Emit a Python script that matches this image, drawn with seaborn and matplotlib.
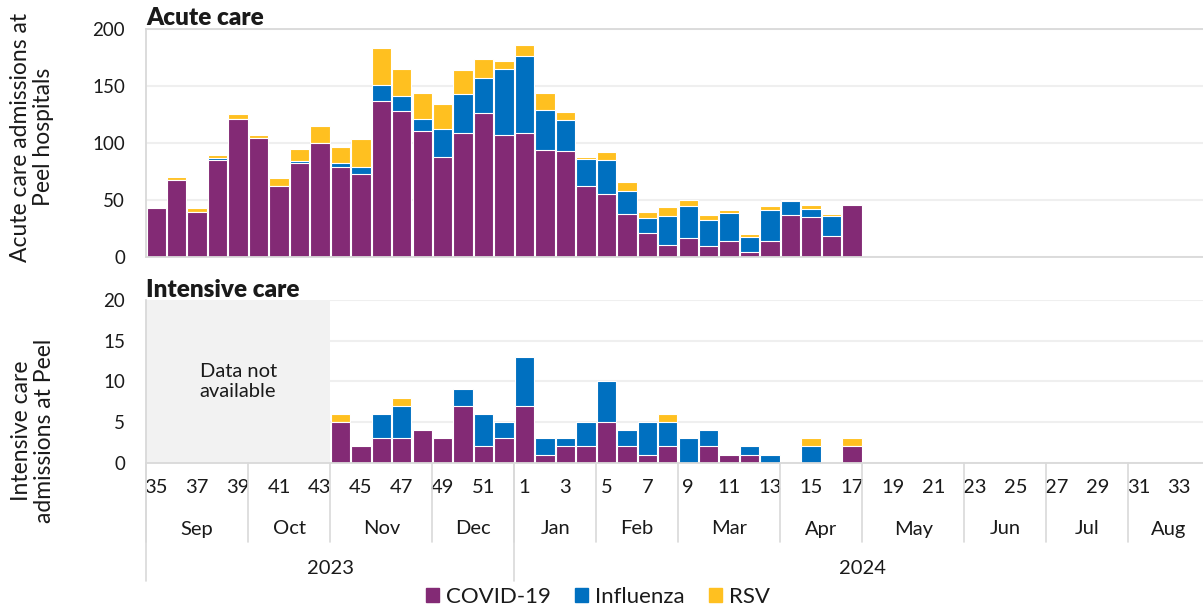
import numpy as np
import pandas as pd
import matplotlib.pyplot as plt
import matplotlib.transforms as mtransforms
from matplotlib.patches import Patch
import seaborn as sns

# Colours
COVID_C = '#832A75'
FLU_C = '#0070C0'
RSV_C = '#FFC020'
GRID_C = '#EFEFEF'
AXIS_C = '#D9D9D9'
INK = '#1A1A1A'

sns.set_theme(style='white')
plt.rcParams['font.family'] = ['Lato', 'DejaVu Sans']
plt.rcParams['text.color'] = INK

nan = np.nan

# Surveillance weeks (Sep 2023 - Aug 2024)
weeks_2023 = [35, 36, 37, 38, 39, 40, 41, 42, 43, 44, 45, 46, 47, 48, 49, 50, 51, 52]
weeks_2024 = [1, 2, 3, 4, 5, 6, 7, 8, 9, 10, 11, 12, 13, 14, 15, 16, 17, 18, 19, 20,
              21, 22, 23, 24, 25, 26, 27, 28, 29, 30, 31, 32, 33, 34]
months = ['Sep', 'Oct', 'Nov', 'Dec', 'Jan', 'Feb', 'Mar', 'Apr', 'May', 'Jun', 'Jul', 'Aug']
weeks_per_month = [5, 4, 5, 4, 4, 4, 5, 4, 5, 4, 4, 4]
years = ['2023', '2024']

# Acute care admissions (2024 reported through week 17)
acute_covid_2023 = [43, 68, 40, 85, 121, 104, 62, 82, 100, 79, 73, 137, 128, 110, 88, 109, 126, 107]
acute_flu_2023 = [0, 0, 0, 2, 0, 0, 0, 2, 0, 3, 6, 14, 13, 11, 24, 34, 31, 58]
acute_rsv_2023 = [0, 2, 3, 2, 4, 3, 7, 11, 15, 14, 24, 32, 24, 23, 22, 21, 16, 7]
acute_covid_2024 = [109, 94, 93, 62, 55, 38, 21, 11, 17, 10, 14, 5, 14, 37, 35, 19, 46]
acute_flu_2024 = [67, 35, 27, 24, 30, 20, 13, 25, 28, 23, 25, 13, 27, 12, 7, 17, 0]
acute_rsv_2024 = [10, 15, 7, 2, 7, 8, 6, 8, 5, 4, 2, 2, 4, 1, 4, 2, 0]

# Intensive care admissions (not available before week 44)
icu_covid_2023 = [nan, nan, nan, nan, nan, nan, nan, nan, nan, 5, 2, 3, 3, 4, 3, 7, 2, 3]
icu_flu_2023 = [nan, nan, nan, nan, nan, nan, nan, nan, nan, 0, 0, 3, 4, 0, 0, 2, 4, 2]
icu_rsv_2023 = [nan, nan, nan, nan, nan, nan, nan, nan, nan, 1, 0, 0, 1, 0, 0, 0, 0, 0]
icu_covid_2024 = [7, 1, 2, 2, 5, 2, 1, 2, 0, 2, 1, 1, 0, 0, 0, 0, 2]
icu_flu_2024 = [6, 2, 1, 3, 5, 2, 4, 3, 3, 2, 0, 1, 1, 0, 2, 0, 0]
icu_rsv_2024 = [0, 0, 0, 0, 0, 0, 0, 1, 0, 0, 0, 0, 0, 0, 1, 0, 1]

weeks = weeks_2023 + weeks_2024
slots = [f'2023-{w}' for w in weeks_2023] + [f'2024-{w}' for w in weeks_2024]
pad = [nan] * (len(weeks_2024) - len(acute_covid_2024))


def frame(c23, f23, r23, c24, f24, r24):
    return pd.DataFrame({
        'slot': slots,
        'covid': c23 + c24 + pad,
        'flu': f23 + f24 + pad,
        'rsv': r23 + r24 + pad,
    })


acute = frame(acute_covid_2023, acute_flu_2023, acute_rsv_2023,
              acute_covid_2024, acute_flu_2024, acute_rsv_2024)
icu = frame(icu_covid_2023, icu_flu_2023, icu_rsv_2023,
            icu_covid_2024, icu_flu_2024, icu_rsv_2024)


def stacked_bars(ax, d):
    # overlay cumulative totals so the segments stack
    layers = [(d['covid'] + d['flu'] + d['rsv'], RSV_C),
              (d['covid'] + d['flu'], FLU_C),
              (d['covid'], COVID_C)]
    for height, color in layers:
        sns.barplot(data=d.assign(h=height), x='slot', y='h', order=slots, color=color,
                    saturation=1, width=0.95, edgecolor='white', linewidth=0.8,
                    errorbar=None, ax=ax, zorder=2)


W, H = 1203, 612
fig = plt.figure(figsize=(W / 100, H / 100), dpi=100)
left = 146 / W
width = 1064 / W
ax1 = fig.add_axes([left, 1 - 257.3 / H, width, (257.3 - 28.5) / H])
ax2_h = (462.7 - 300) / H
ax2 = fig.add_axes([left, 1 - 462.7 / H, width, ax2_h])

stacked_bars(ax1, acute)
stacked_bars(ax2, icu)

for ax, top, step in [(ax1, 200, 50), (ax2, 20, 5)]:
    ax.set_xlim(-0.5, len(slots) - 0.5)
    ax.set_ylim(0, top)
    ax.set_yticks(range(0, top + 1, step))
    ax.set_xlabel('')
    ax.set_ylabel('')
    ax.set_axisbelow(True)
    ax.yaxis.grid(True, color=GRID_C, lw=1.5)
    ax.xaxis.grid(False)
    ax.tick_params(axis='y', length=0, pad=15, labelsize=13.5, labelcolor=INK)
    for s in ['left', 'bottom']:
        ax.spines[s].set_color(AXIS_C)
        ax.spines[s].set_linewidth(1.3)
    ax.spines['right'].set_visible(False)

ax1.spines['top'].set_color(AXIS_C)
ax1.spines['top'].set_linewidth(1.3)
ax2.spines['top'].set_visible(False)
ax1.set_xticks([])

ax1.set_title('Acute care', loc='left', fontsize=17.5, fontweight='heavy', pad=2)
ax2.set_title('Intensive care', loc='left', fontsize=17.5, fontweight='heavy', pad=2)

# grey block where ICU data is missing
n_missing = int(icu['covid'].isna().values[:len(weeks_2023)].sum())
ax2.axvspan(-0.5, n_missing - 0.5, color='#F2F2F2', lw=0, zorder=1)
ax2.text((n_missing - 1) / 2, 10, 'Data not\navailable', ha='center', va='center',
         fontsize=14.5, linespacing=1.2, color=INK, zorder=3)

# week ticks
tick_idx = list(range(0, len(weeks), 2))
ax2.set_xticks(tick_idx)
ax2.set_xticklabels([str(weeks[i]) for i in tick_idx])
ax2.tick_params(axis='x', length=0, pad=12, labelsize=14.5, labelcolor=INK)

# month and year rows
ax_px = ax2_h * H
trans = mtransforms.blended_transform_factory(ax2.transData, ax2.transAxes)


def below(px):
    return -(px - 462.7) / ax_px


starts = np.concatenate([[0], np.cumsum(weeks_per_month)[:-1]])
for name, s, n in zip(months, starts, weeks_per_month):
    ax2.plot([s - 0.5, s - 0.5], [0, below(542)], transform=trans, clip_on=False,
             color=AXIS_C, lw=1.2)
    ax2.text(s + n / 2 - 0.5, below(529), name, transform=trans, ha='center', va='center',
             fontsize=14.5, color=INK)

year_len = [len(weeks_2023), len(weeks_2024)]
ystart = [0, len(weeks_2023)]
for name, s, n in zip(years, ystart, year_len):
    ax2.plot([s - 0.5, s - 0.5], [0, below(581)], transform=trans, clip_on=False,
             color=AXIS_C, lw=1.2)
    ax2.text(s + n / 2 - 0.5, below(568), name, transform=trans, ha='center', va='center',
             fontsize=14.5, color=INK)

# axis titles
fig.text(32 / W, 1 - 137 / H, 'Acute care admissions at\nPeel hospitals', rotation=90,
         ha='center', va='center', fontsize=16.5, linespacing=1.1, color=INK)
fig.text(33 / W, 1 - 431 / H, 'Intensive care\nadmissions at Peel', rotation=90,
         ha='center', va='center', fontsize=16.5, linespacing=1.1, color=INK)

# legend
handles = [Patch(color=COVID_C), Patch(color=FLU_C), Patch(color=RSV_C)]
fig.legend(handles, ['COVID-19', 'Influenza', 'RSV'], loc='center',
           bbox_to_anchor=(0.497, 1 - 597 / H), ncol=3, frameon=False, fontsize=16,
           handlelength=0.6, handleheight=0.6, handletextpad=0.3, columnspacing=1.1)

fig.savefig('out.png', dpi=100)
